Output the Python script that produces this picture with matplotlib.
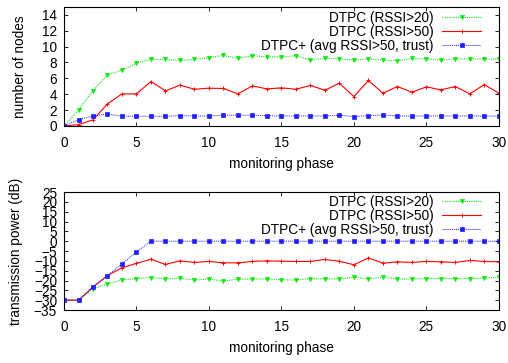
import matplotlib
matplotlib.use("Agg")
import matplotlib.pyplot as plt

plt.rcParams['font.family'] = ['Liberation Sans', 'DejaVu Sans']
plt.rcParams['font.size'] = 9.8

phase = list(range(31))

nodes_rssi20 = [0, 2.0, 4.46, 6.44, 7.03, 7.9, 8.4, 8.4, 8.25, 8.4, 8.6, 8.9, 8.5, 8.85, 8.7,
                8.7, 8.85, 8.3, 8.55, 8.45, 8.3, 8.45, 8.3, 8.2, 8.5, 8.45, 8.3, 8.45, 8.45, 8.45, 8.4]
nodes_rssi50 = [0, 0.17, 0.76, 2.78, 4.04, 4.04, 5.6, 4.42, 5.14, 4.63, 4.76, 4.72, 4.04, 5.05, 4.67,
                4.8, 4.63, 5.1, 4.5, 5.39, 3.7, 5.73, 4.13, 4.97, 4.25, 4.93, 4.55, 4.97, 4.04, 5.22, 4.13]
nodes_trust = [0, 0.8, 1.26, 1.52, 1.22, 1.22, 1.22, 1.22, 1.3, 1.26, 1.26, 1.35, 1.35, 1.35, 1.3,
               1.26, 1.26, 1.26, 1.26, 1.35, 1.18, 1.3, 1.39, 1.26, 1.26, 1.26, 1.26, 1.26, 1.26, 1.26, 1.22]

power_rssi20 = [-30, -30, -24.2, -21.8, -19.7, -19.0, -18.5, -19.2, -18.8, -19.8, -19.2, -20.3, -19.3, -19.3, -19.2,
                -19.7, -19.7, -19.0, -19.2, -19.2, -18.3, -19.3, -18.3, -19.2, -19.2, -19.0, -19.0, -19.0, -19.0, -18.8, -18.2]
power_rssi50 = [-30, -30, -23.3, -17.5, -13.5, -11.3, -9.2, -11.8, -10.0, -10.8, -10.3, -11.0, -11.0, -10.3, -10.0,
                -10.2, -10.3, -10.3, -9.3, -10.2, -12.0, -8.5, -11.2, -10.5, -10.8, -10.3, -10.5, -10.8, -9.8, -10.3, -10.5]
power_trust = [-30, -30, -23.3, -17.5, -11.5, -5.5] + [0] * 25

labels = ["DTPC (RSSI>20)", "DTPC (RSSI>50)", "DTPC+ (avg RSSI>50, trust)"]
xticks = [0, 5, 10, 15, 20, 25, 30]
yticks_top = [0, 2, 4, 6, 8, 10, 12, 14]
yticks_bot = [-35, -30, -25, -20, -15, -10, -5, 0, 5, 10, 15, 20, 25]

green = "#10e810"
red = "#ff0000"
blue = "#2020ff"

fig = plt.figure(figsize=(5.08, 3.63), dpi=100)
ax1 = fig.add_axes([0.126, 0.653, 0.856, 0.328])
ax2 = fig.add_axes([0.126, 0.146, 0.856, 0.325])

def style(ax, ydata, ylim, yticks, ylabel, ylabelpad, legtop):
    s20, s50, st = ydata
    ax.plot(phase, s20, color=green, lw=0.8, ls=(0, (1, 1)), marker='v', ms=3, mew=0.5, label=labels[0])
    ax.plot(phase, s50, color=red, lw=0.8, ls='-', marker='+', ms=3, mew=0.7, label=labels[1])
    ax.plot(phase, st, color=blue, lw=0.7, ls=(0, (1, 1)), marker='s', ms=2.6, mew=0.5, label=labels[2])
    ax.set_xlim(0, 30)
    ax.set_ylim(*ylim)
    ax.set_xticks(xticks)
    ax.set_yticks(yticks)
    ax.tick_params(direction='in', top=True, right=True, length=3, width=0.6)
    ax.tick_params(axis='x', pad=7)
    ax.tick_params(axis='y', pad=5)
    for sp in ax.spines.values():
        sp.set_linewidth(0.8)
    ax.set_xlabel("monitoring phase", labelpad=5)
    ax.set_ylabel(ylabel, labelpad=ylabelpad)
    ax.legend(loc='upper right', bbox_to_anchor=(0.958, legtop), markerfirst=False, frameon=False,
              handlelength=2.8, handletextpad=0.65, labelspacing=0.0, borderaxespad=0.0, borderpad=0.0)

style(ax1, (nodes_rssi20, nodes_rssi50, nodes_trust), (0, 15), yticks_top, "number of nodes", 11, 0.966)
style(ax2, (power_rssi20, power_rssi50, power_trust), (-35, 25), yticks_bot, "transmission power (dB)", 8, 0.976)

fig.savefig("out.png", dpi=100)
